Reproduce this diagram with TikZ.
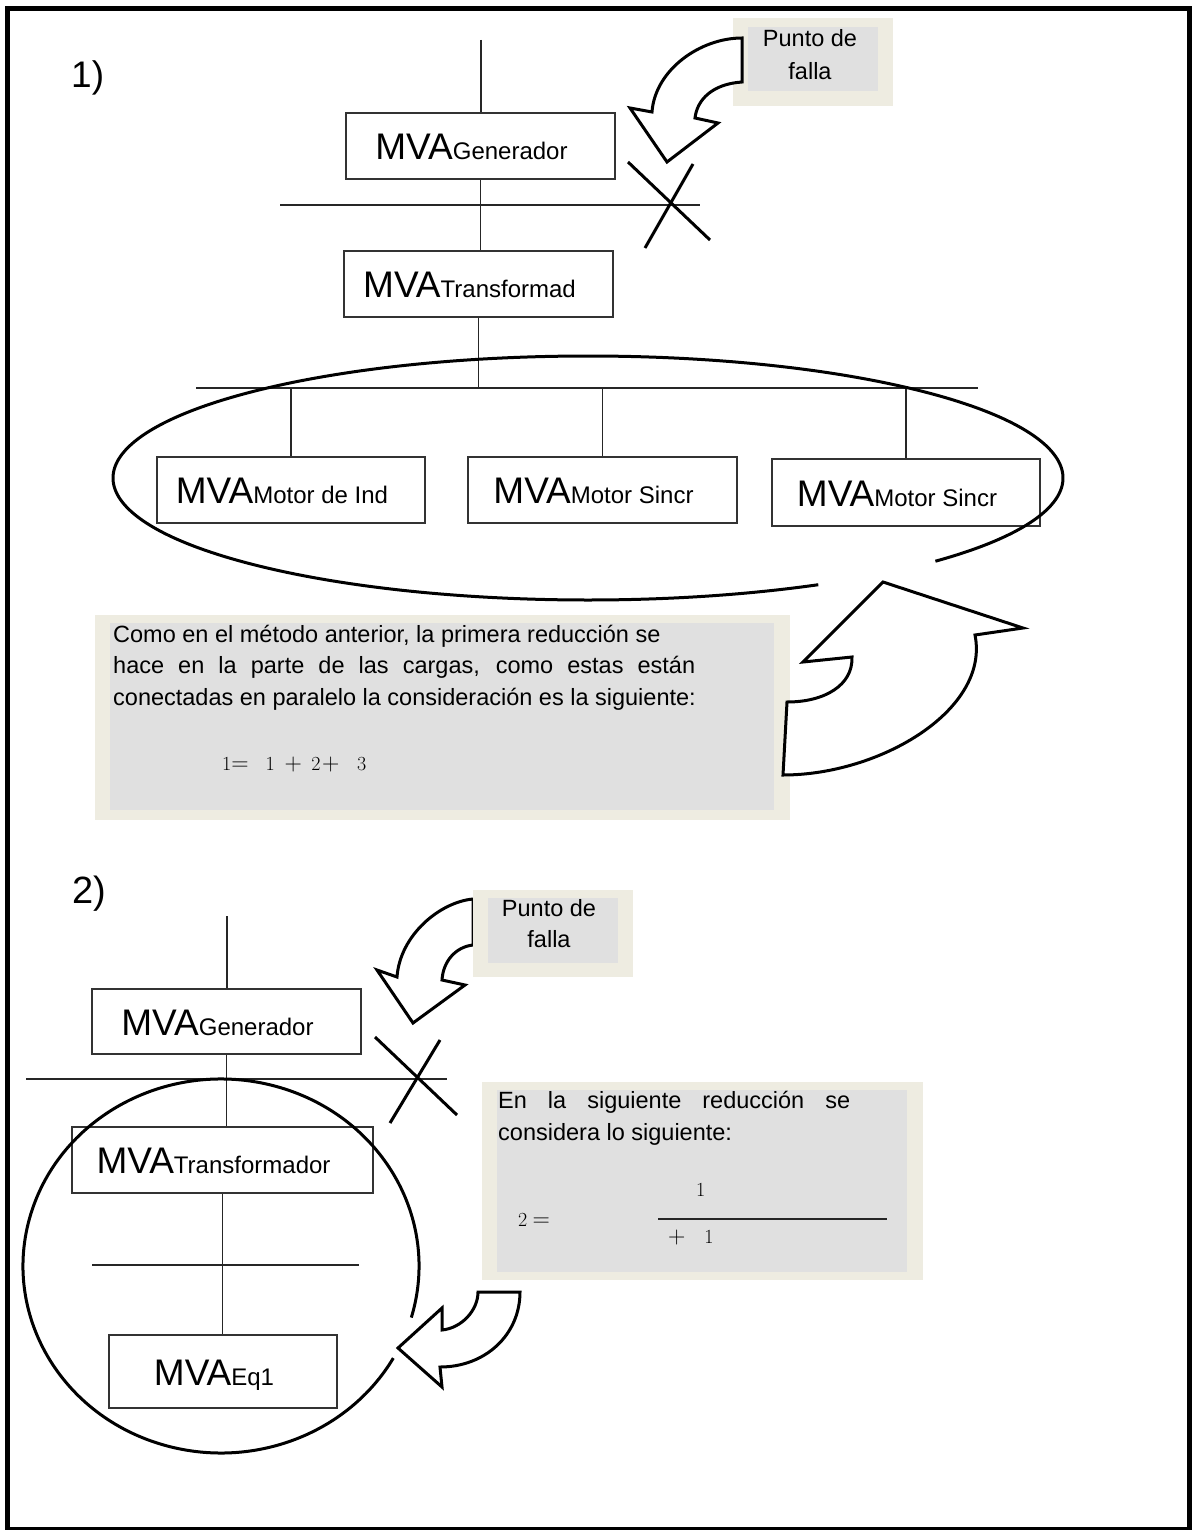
\documentclass[tikz,border=0pt]{standalone}
\usepackage{fontspec}
\setmainfont{Liberation Sans}
\usetikzlibrary{calc}
\definecolor{beige}{HTML}{EEECE1}
\definecolor{panel}{HTML}{E0E0E0}
\newcommand{\fsz}[1]{\fontsize{#1}{#1}\selectfont}
\newcommand{\mvatxt}[1]{{\fsz{37}MVA}{\fsz{24}#1}\rule{18pt}{0pt}}
\newcommand{\lmfont}{\fontfamily{lmr}\selectfont}
\begin{document}
\begin{tikzpicture}[x=1pt,y=1pt,
  mvabox/.style={draw=black!80,line width=1.6pt,inner sep=0pt,text height=27pt,text depth=0pt,minimum height=66pt},
  bus/.style={line width=1.5pt,draw=black!85},
  heavy/.style={line width=3pt,draw=black},
  arrowshape/.style={fill=white,draw=black,line width=3pt,line join=miter,miter limit=6},
  body/.style={inner sep=0pt,align=left,font=\fontsize{23.5}{31.5}\selectfont},
  punto/.style={inner sep=0pt,align=center,font=\fontsize{23.5}{33}\selectfont},
  eqtext/.style={anchor=base west,inner sep=0pt,font=\lmfont}
]
\useasboundingbox (0,0) rectangle (1191,-1530);
\fill[white] (0,0) rectangle (1191,-1530);

% ---------------- Part 1 ----------------
\node[anchor=base west,inner sep=0pt,font=\fsz{37}] (lab1) at (71,-88) {1)};

% punto de falla 1
\fill[beige] (733,-18) rectangle (893,-106);
\fill[panel] (748,-27) rectangle (878,-91);
\node[punto] (pf1) at (810,-55) {Punto de\\falla};
\filldraw[arrowshape] (742,-38) .. controls (700,-38) and (655,-70) .. (652,-112)
  -- (630,-108) -- (667,-162) -- (718,-123) -- (695,-118)
  .. controls (697,-100) and (712,-84) .. (742,-82) -- cycle;

% boxes
\node[mvabox,minimum width=269pt] (gen1) at (480.5,-146) {\mvatxt{Generador}};
\node[mvabox,minimum width=269pt] (trans1) at (478.5,-284) {\mvatxt{Transformad}};
\node[mvabox,minimum width=268pt] (mot1) at (291,-490) {\mvatxt{Motor de Ind}};
\node[mvabox,minimum width=269pt] (mot2) at (602.5,-490) {\mvatxt{Motor Sincr}};
\node[mvabox,minimum width=268pt,minimum height=67pt] (mot3) at (906,-492.5) {\mvatxt{Motor Sincr}};

\coordinate (top1) at (481,-40);
\coordinate (bus1w) at (280,-205);
\coordinate (bus1e) at (700,-205);
\coordinate (bus2w) at (196,-388);
\coordinate (bus2e) at (978,-388);
\draw[bus] (top1) -- (top1 |- gen1.north);
\draw[bus] (gen1.south) -- (gen1.south |- trans1.north);
\draw[bus] (bus1w) -- (bus1e);
\draw[bus] (trans1.south) -- (trans1.south |- bus2w);
\draw[bus] (bus2w) -- (bus2e);
\draw[bus] (mot1.north |- bus2w) -- (mot1.north);
\draw[bus] (mot2.north |- bus2w) -- (mot2.north);
\draw[bus] (mot3.north |- bus2w) -- (mot3.north);

% fault mark 1
\coordinate (x1a) at (628,-162);
\coordinate (x1b) at (710,-240);
\coordinate (x1c) at (693,-164);
\coordinate (x1d) at (645,-248);
\draw[heavy] (x1a) -- (x1b);
\draw[heavy] (x1c) -- (x1d);

% ellipse round the loads
\coordinate (e1c) at (588,-478);
\draw[heavy] ([shift={(-43:475 and 122)}]e1c) arc[start angle=-43,end angle=299,x radius=475,y radius=122];

% text panel 1
\fill[beige] (95,-615) rectangle (790,-820);
\fill[panel] (110,-623) rectangle (774,-810);
\node[body,anchor=north west] (txt1) at (113,-624.5) {Como en el método anterior, la primera reducción se\\
\makebox[582pt][s]{hace en la parte de las cargas, como estas están}\\
conectadas en paralelo la consideración es la siguiente:};
\node[eqtext] (eq1) at (222,-770) {\fsz{20}1\fsz{24}=\hspace{17pt}\fsz{20}1\hspace{9.7pt}\fsz{24}+\hspace{9.6pt}\fsz{20}2\hspace{1.5pt}\fsz{24}+\hspace{17.8pt}\fsz{20}3};

% big arrow
\filldraw[arrowshape] (783,-775) -- (787,-702) .. controls (825,-702) and (853,-685) .. (852,-657)
  -- (803,-662) -- (883,-582) -- (1023,-628) -- (975,-635)
  .. controls (990,-710) and (880,-775) .. (783,-775) -- cycle;

% ---------------- Part 2 ----------------
\node[anchor=base west,inner sep=0pt,font=\fsz{38}] (lab2) at (72,-903) {2)};

\filldraw[arrowshape] (473,-899) .. controls (440,-902) and (400,-935) .. (397,-977)
  -- (377,-970) -- (413,-1023) -- (465,-985) -- (442,-980)
  .. controls (443,-962) and (455,-947) .. (473,-945) -- cycle;
\fill[beige] (473,-890) rectangle (633,-977);
\fill[panel] (488,-898) rectangle (618,-963);
\node[punto,font=\fontsize{23.5}{31}\selectfont] (pf2) at (549,-924) {Punto de\\falla};

\node[mvabox,minimum width=269pt,minimum height=65pt] (gen2) at (226.5,-1021.5) {\mvatxt{Generador}};
\node[mvabox,minimum width=301pt] (trans2) at (222.5,-1160) {\mvatxt{Transformador}};
\node[mvabox,minimum width=228pt,minimum height=73pt] (eq2) at (223,-1371.5) {\mvatxt{Eq1}};

\coordinate (top2) at (227,-916);
\coordinate (bus3w) at (26,-1079);
\coordinate (bus3e) at (447,-1079);
\coordinate (bus4w) at (92,-1265);
\coordinate (bus4e) at (359,-1265);
\draw[bus] (top2) -- (top2 |- gen2.north);
\draw[bus] (gen2.south) -- (gen2.south |- trans2.north);
\draw[bus] (bus3w) -- (bus3e);
\draw[bus] (trans2.south) -- (trans2.south |- eq2.north);
\draw[bus] (bus4w) -- (bus4e);

\coordinate (x2a) at (375,-1037);
\coordinate (x2b) at (457,-1115);
\coordinate (x2c) at (440,-1040);
\coordinate (x2d) at (390,-1123);
\draw[heavy] (x2a) -- (x2b);
\draw[heavy] (x2c) -- (x2d);

\coordinate (c2c) at (221,-1266);
\draw[heavy] ([shift={(-16:198 and 187)}]c2c) arc[start angle=-16,end angle=330.5,x radius=198,y radius=187];

% text panel 2
\fill[beige] (482,-1082) rectangle (923,-1280);
\fill[panel] (497,-1090) rectangle (907,-1272);
\node[body,anchor=north west,font=\fontsize{23.5}{32}\selectfont] (txt2) at (498,-1091.4) {\makebox[352pt][s]{En la siguiente reducción se}\\considera lo siguiente:};
\node[eqtext] (eq2l) at (518,-1226) {\fsz{20}2\hspace{5.3pt}\fsz{24}=};
\node[eqtext] (eq2n) at (696,-1196) {\fsz{20}1};
\node[eqtext] (eq2d) at (668,-1243) {\fsz{24}+\hspace{19pt}\fsz{20}1};
\coordinate (fr1) at (658,-1219);
\coordinate (fr2) at (887,-1219);
\draw[line width=1.5pt,black!85] (fr1) -- (fr2);

\filldraw[arrowshape] (478,-1292) -- (520,-1292) .. controls (520,-1335) and (485,-1367) .. (440,-1367)
  -- (442,-1387) -- (398,-1348) -- (442,-1308) -- (442,-1330)
  .. controls (462,-1328) and (478,-1310) .. (478,-1292) -- cycle;

% frame
\draw[line width=5pt] (7.5,-8.5) rectangle (1189,-1529);
\end{tikzpicture}
\end{document}
